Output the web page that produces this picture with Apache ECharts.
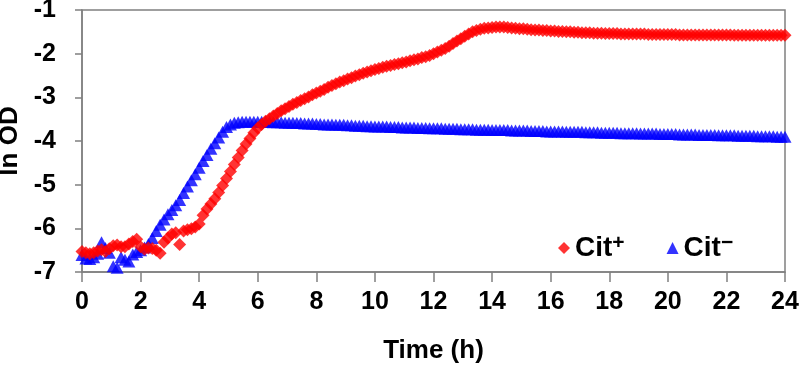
<!DOCTYPE html>
<html>
<head>
<meta charset="utf-8">
<script src="https://cdn.jsdelivr.net/npm/echarts@6/dist/echarts.min.js"></script>
<style>
html,body{margin:0;padding:0;background:#fff;}
#chart{width:800px;height:367px;}
</style>
</head>
<body>
<div id="chart"></div>
<script>
// Sampling times (minutes)
var timeMinutes = [0,8,16,24,32,40,48,56,64,72,80,88,96,104,112,120,128,136,144,152,160,168,176,184,192,200,208,216,224,232,240,248,256,264,272,280,288,296,304,312,320,328,336,344,352,360,368,376,384,392,400,408,416,424,432,440,448,456,464,472,480,488,496,504,512,520,528,536,544,552,560,568,576,584,592,600,608,616,624,632,640,648,656,664,672,680,688,696,704,712,720,728,736,744,752,760,768,776,784,792,800,808,816,824,832,840,848,856,864,872,880,888,896,904,912,920,928,936,944,952,960,968,976,984,992,1000,1008,1016,1024,1032,1040,1048,1056,1064,1072,1080,1088,1096,1104,1112,1120,1128,1136,1144,1152,1160,1168,1176,1184,1192,1200,1208,1216,1224,1232,1240,1248,1256,1264,1272,1280,1288,1296,1304,1312,1320,1328,1336,1344,1352,1360,1368,1376,1384,1392,1400,1408,1416,1424,1432,1440];

// ln OD, Cit+
var citPlus = [
  -6.53,-6.56,-6.58,-6.56,-6.52,-6.49,-6.53,-6.47,-6.40,-6.38,
  -6.42,-6.42,-6.36,-6.30,-6.25,-6.42,-6.48,-6.45,-6.46,-6.50,
  -6.57,-6.32,-6.22,-6.13,-6.10,-6.37,-6.06,-6.03,-6.01,-5.97,
  -5.90,-5.70,-5.56,-5.44,-5.32,-5.18,-5.02,-4.86,-4.70,-4.54,
  -4.38,-4.22,-4.07,-3.94,-3.81,-3.70,-3.62,-3.55,-3.49,-3.43,
  -3.37,-3.31,-3.26,-3.21,-3.16,-3.12,-3.07,-3.03,-2.99,-2.94,
  -2.90,-2.86,-2.82,-2.77,-2.73,-2.69,-2.65,-2.62,-2.58,-2.55,
  -2.51,-2.48,-2.45,-2.42,-2.39,-2.36,-2.34,-2.31,-2.29,-2.27,
  -2.25,-2.23,-2.21,-2.19,-2.16,-2.14,-2.12,-2.09,-2.07,-2.04,
  -2.00,-1.96,-1.92,-1.88,-1.83,-1.77,-1.71,-1.66,-1.60,-1.55,
  -1.50,-1.47,-1.44,-1.42,-1.41,-1.40,-1.39,-1.39,-1.39,-1.40,
  -1.41,-1.42,-1.43,-1.43,-1.44,-1.45,-1.46,-1.46,-1.47,-1.47,
  -1.48,-1.48,-1.49,-1.49,-1.50,-1.50,-1.51,-1.51,-1.52,-1.52,
  -1.52,-1.53,-1.53,-1.53,-1.54,-1.54,-1.54,-1.54,-1.55,-1.55,
  -1.55,-1.55,-1.55,-1.55,-1.55,-1.56,-1.56,-1.56,-1.56,-1.56,
  -1.56,-1.56,-1.56,-1.57,-1.57,-1.57,-1.57,-1.57,-1.57,-1.57,
  -1.57,-1.57,-1.57,-1.57,-1.57,-1.57,-1.57,-1.58,-1.58,-1.58,
  -1.58,-1.58,-1.58,-1.58,-1.58,-1.58,-1.58,-1.58,-1.58,-1.58,
  -1.58
];

// ln OD, Cit-
var citMinus = [
  -6.61,-6.69,-6.70,-6.66,-6.58,-6.32,-6.45,-6.56,-6.87,-6.90,
  -6.66,-6.72,-6.76,-6.60,-6.54,-6.50,-6.44,-6.36,-6.22,-6.06,
  -5.92,-5.80,-5.68,-5.58,-5.47,-5.35,-5.19,-5.04,-4.90,-4.76,
  -4.61,-4.46,-4.32,-4.18,-4.05,-3.92,-3.79,-3.68,-3.62,-3.58,
  -3.57,-3.56,-3.56,-3.56,-3.56,-3.56,-3.56,-3.56,-3.56,-3.57,
  -3.57,-3.57,-3.58,-3.58,-3.58,-3.59,-3.59,-3.60,-3.60,-3.60,
  -3.61,-3.61,-3.62,-3.62,-3.62,-3.63,-3.63,-3.63,-3.64,-3.64,
  -3.65,-3.65,-3.65,-3.66,-3.66,-3.67,-3.67,-3.67,-3.67,-3.68,
  -3.68,-3.68,-3.69,-3.69,-3.69,-3.69,-3.70,-3.70,-3.70,-3.71,
  -3.71,-3.71,-3.71,-3.72,-3.72,-3.72,-3.72,-3.73,-3.73,-3.73,
  -3.73,-3.74,-3.74,-3.74,-3.74,-3.75,-3.75,-3.75,-3.75,-3.75,
  -3.76,-3.76,-3.76,-3.76,-3.76,-3.77,-3.77,-3.77,-3.77,-3.78,
  -3.78,-3.78,-3.78,-3.78,-3.79,-3.79,-3.79,-3.79,-3.79,-3.80,
  -3.80,-3.80,-3.80,-3.81,-3.81,-3.81,-3.81,-3.81,-3.82,-3.82,
  -3.82,-3.82,-3.82,-3.83,-3.83,-3.83,-3.83,-3.83,-3.84,-3.84,
  -3.84,-3.84,-3.84,-3.85,-3.85,-3.85,-3.85,-3.85,-3.86,-3.86,
  -3.86,-3.86,-3.86,-3.87,-3.87,-3.87,-3.87,-3.87,-3.88,-3.88,
  -3.88,-3.88,-3.88,-3.89,-3.89,-3.89,-3.89,-3.89,-3.90,-3.90,
  -3.90
];

var seriesNames = ['Cit+', 'Cit-'];
var xTicks = {min: 0, max: 24, interval: 2};
var yTicks = {min: -7, max: -1, interval: 1};

function pairs(vals) {
  return vals.map(function (v, i) { return [timeMinutes[i] / 60, v]; });
}

var FONT = 'Arial, "Liberation Sans", Helvetica, sans-serif';
var chart = echarts.init(document.getElementById('chart'), null, {renderer: 'canvas'});
chart.setOption({
  animation: false,
  backgroundColor: '#ffffff',
  grid: {left: 82, right: 15, top: 10, bottom: 95, show: true, borderColor: '#808080', borderWidth: 1.5,
         containLabel: false, outerBoundsMode: 'none'},
  legend: {
    data: seriesNames,
    left: 553, top: 228,
    itemWidth: 12, itemHeight: 12, itemGap: 42,
    formatter: function (name) {
      return name === 'Cit+' ? '{c|Cit}{s|+}' : '{c|Cit}{s|\u2212}';
    },
    textStyle: {
      fontFamily: FONT, color: '#000',
      rich: {
        c: {fontFamily: FONT, fontWeight: 'bold', fontSize: 28, color: '#000', lineHeight: 30},
        s: {fontFamily: FONT, fontWeight: 'bold', fontSize: 21, color: '#000', verticalAlign: 'top', lineHeight: 13}
      }
    }
  },
  xAxis: {
    type: 'value', min: xTicks.min, max: xTicks.max, interval: xTicks.interval,
    name: 'Time (h)', nameLocation: 'middle', nameGap: 66,
    nameTextStyle: {fontFamily: FONT, fontWeight: 'bold', fontSize: 26, color: '#000'},
    axisLine: {lineStyle: {color: '#808080', width: 1.5}},
    axisTick: {show: true, length: 10, lineStyle: {color: '#808080', width: 1.5}},
    axisLabel: {fontFamily: FONT, fontWeight: 'bold', fontSize: 25, color: '#000', margin: 18},
    splitLine: {show: false}
  },
  yAxis: {
    type: 'value', min: yTicks.min, max: yTicks.max, interval: yTicks.interval,
    name: 'ln OD', nameLocation: 'middle', nameGap: 52,
    nameTextStyle: {fontFamily: FONT, fontWeight: 'bold', fontSize: 26, color: '#000'},
    axisLine: {show: true, lineStyle: {color: '#808080', width: 1.5}},
    axisTick: {show: true, length: 7, lineStyle: {color: '#808080', width: 1.5}},
    axisLabel: {fontFamily: FONT, fontWeight: 'bold', fontSize: 25, color: '#000', margin: 26},
    splitLine: {show: false}
  },
  series: [
    {
      name: 'Cit-', type: 'scatter', symbol: 'triangle', symbolSize: [13, 12],
      itemStyle: {color: '#0000ff'}, data: pairs(citMinus), z: 2
    },
    {
      name: 'Cit+', type: 'scatter', symbol: 'diamond', symbolSize: [13, 13],
      itemStyle: {color: '#ff0000'}, data: pairs(citPlus), z: 3
    }
  ]
});
</script>
</body>
</html>
